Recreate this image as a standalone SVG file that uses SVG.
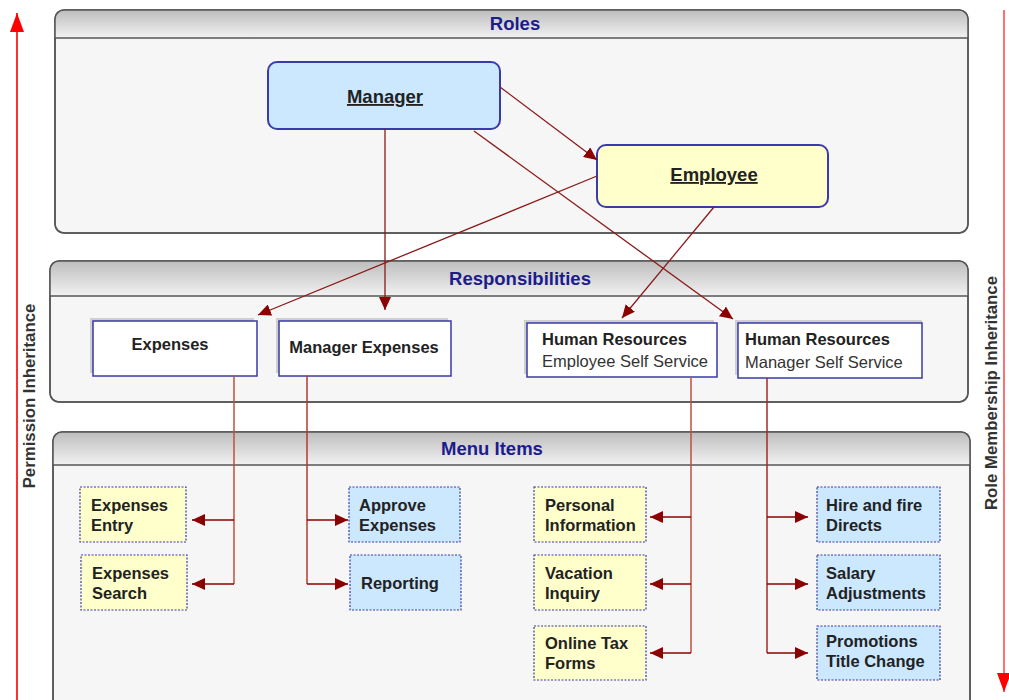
<svg xmlns="http://www.w3.org/2000/svg" width="1009" height="700" viewBox="0 0 1009 700">
<defs>
<linearGradient id="hdr" x1="0" y1="0" x2="0" y2="1">
<stop offset="0" stop-color="#bdbdbd"/>
<stop offset="1" stop-color="#f2f2f2"/>
</linearGradient>
<marker id="ah" markerUnits="userSpaceOnUse" markerWidth="14" markerHeight="12" refX="13" refY="6" orient="auto">
<path d="M0,0 L13,6 L0,12 Z" fill="#8b0000"/>
</marker>
<marker id="redUp" markerUnits="userSpaceOnUse" markerWidth="20" markerHeight="14" refX="19" refY="7" orient="auto">
<path d="M0,0 L19,7 L0,14 Z" fill="#ff0000"/>
</marker>
<clipPath id="clipR"><rect x="55" y="10" width="913" height="223" rx="9"/></clipPath>
<clipPath id="clipS"><rect x="50" y="261" width="918" height="141" rx="9"/></clipPath>
<clipPath id="clipM"><rect x="53" y="432" width="917" height="290" rx="9"/></clipPath>
</defs>
<style>
.panel{fill:#f6f6f6;stroke:#555;stroke-width:1.5}
.hline{stroke:#555;stroke-width:1.5}
.ptitle{font-family:"Liberation Sans",Arial,sans-serif;font-weight:bold;font-size:18.5px;fill:#1c1c8c;text-anchor:middle}
.role{stroke:#3a3aa8;stroke-width:2}
.rtext{font-family:"Liberation Sans",Arial,sans-serif;font-weight:bold;font-size:18.5px;fill:#222;text-anchor:middle;text-decoration:underline}
.resp{fill:#fff;stroke:#3a3aa8;stroke-width:1.5}
.shadow{fill:#cfcfcf}
.bold{font-family:"Liberation Sans",Arial,sans-serif;font-weight:bold;font-size:16.5px;fill:#222}
.norm{font-family:"Liberation Sans",Arial,sans-serif;font-size:16.5px;fill:#333}
.item{stroke:#3a3aa8;stroke-width:1.2;stroke-dasharray:2,1.5}
.yel{fill:#ffffcc}
.blu{fill:#cce8ff}
.conn{fill:none;stroke:#8b1a1a;stroke-width:1.3}
.vline{fill:none;stroke:#c0503a;stroke-width:1.5}
.harr{fill:none;stroke:#8b0000;stroke-width:1.5}
.side{font-family:"Liberation Sans",Arial,sans-serif;font-weight:bold;font-size:16.8px;fill:#333;text-anchor:middle}
</style>

<!-- side arrows -->
<g id="permission-inheritance">
<line x1="17" y1="700" x2="17" y2="13" stroke="#ff3030" stroke-width="2" marker-end="url(#redUp)"/>
<text class="side" transform="translate(35,396) rotate(-90)">Permission Inheritance</text>
</g>
<g id="role-membership-inheritance">
<line x1="1004" y1="10" x2="1004" y2="692" stroke="#ff7070" stroke-width="2" marker-end="url(#redUp)"/>
<text class="side" transform="translate(997,393) rotate(-90)">Role Membership Inheritance</text>
</g>

<!-- panels -->
<g id="roles-panel">
<rect class="panel" x="55" y="10" width="913" height="223" rx="9"/>
<rect x="55" y="10" width="913" height="28" fill="url(#hdr)" clip-path="url(#clipR)"/>
<rect x="55" y="10" width="913" height="223" rx="9" fill="none" stroke="#555" stroke-width="1.5"/>
<line class="hline" x1="55" y1="38" x2="968" y2="38"/>
<text class="ptitle" x="515" y="30">Roles</text>
</g>
<g id="responsibilities-panel">
<rect class="panel" x="50" y="261" width="918" height="141" rx="9"/>
<rect x="50" y="261" width="918" height="35" fill="url(#hdr)" clip-path="url(#clipS)"/>
<rect x="50" y="261" width="918" height="141" rx="9" fill="none" stroke="#555" stroke-width="1.5"/>
<line class="hline" x1="50" y1="296" x2="968" y2="296"/>
<text class="ptitle" x="520" y="285">Responsibilities</text>
</g>
<g id="menu-items-panel">
<rect class="panel" x="53" y="432" width="917" height="290" rx="9"/>
<rect x="53" y="432" width="917" height="33" fill="url(#hdr)" clip-path="url(#clipM)"/>
<rect x="53" y="432" width="917" height="290" rx="9" fill="none" stroke="#555" stroke-width="1.5"/>
<line class="hline" x1="53" y1="465" x2="970" y2="465"/>
<text class="ptitle" x="492" y="455">Menu Items</text>
</g>

<!-- roles -->
<g id="manager">
<rect class="role" x="268" y="62" width="232" height="67" rx="9" fill="#cce8ff"/>
<text class="rtext" x="385" y="103">Manager</text>
</g>
<g id="employee">
<rect class="role" x="597" y="145" width="231" height="62" rx="9" fill="#ffffcc"/>
<text class="rtext" x="714" y="181">Employee</text>
</g>

<!-- responsibilities -->
<g id="expenses">
<rect class="shadow" x="90" y="318" width="164" height="55"/>
<rect class="resp" x="93" y="321" width="164" height="55"/>
<text class="bold" x="170" y="350" text-anchor="middle">Expenses</text>
</g>
<g id="manager-expenses">
<rect class="shadow" x="276" y="318" width="172" height="55"/>
<rect class="resp" x="279" y="321" width="172" height="55"/>
<text class="bold" x="364" y="353" text-anchor="middle">Manager Expenses</text>
</g>
<g id="hr-ess">
<rect class="shadow" x="524" y="320" width="190" height="54"/>
<rect class="resp" x="527" y="323" width="190" height="54"/>
<text class="bold" x="542" y="345">Human Resources</text>
<text class="norm" x="542" y="367">Employee Self Service</text>
</g>
<g id="hr-mss">
<rect class="shadow" x="735" y="320" width="187" height="55"/>
<rect class="resp" x="738" y="323" width="184" height="55"/>
<text class="bold" x="745" y="345">Human Resources</text>
<text class="norm" x="745" y="368">Manager Self Service</text>
</g>

<!-- menu items -->
<g id="expenses-entry">
<rect class="item yel" x="80" y="487" width="106" height="55"/>
<text class="bold" x="91" y="511">Expenses</text>
<text class="bold" x="91" y="531">Entry</text>
</g>
<g id="expenses-search">
<rect class="item yel" x="81" y="555" width="106" height="55"/>
<text class="bold" x="92" y="579">Expenses</text>
<text class="bold" x="92" y="599">Search</text>
</g>
<g id="approve-expenses">
<rect class="item blu" x="349" y="487" width="111" height="55"/>
<text class="bold" x="359" y="511">Approve</text>
<text class="bold" x="359" y="531">Expenses</text>
</g>
<g id="reporting">
<rect class="item blu" x="350" y="555" width="111" height="55"/>
<text class="bold" x="361" y="589">Reporting</text>
</g>
<g id="personal-information">
<rect class="item yel" x="534" y="487" width="112" height="55"/>
<text class="bold" x="545" y="511">Personal</text>
<text class="bold" x="545" y="531">Information</text>
</g>
<g id="vacation-inquiry">
<rect class="item yel" x="534" y="555" width="112" height="55"/>
<text class="bold" x="545" y="579">Vacation</text>
<text class="bold" x="545" y="599">Inquiry</text>
</g>
<g id="online-tax-forms">
<rect class="item yel" x="534" y="626" width="112" height="54"/>
<text class="bold" x="545" y="649">Online Tax</text>
<text class="bold" x="545" y="669">Forms</text>
</g>
<g id="hire-fire-directs">
<rect class="item blu" x="817" y="487" width="123" height="55"/>
<text class="bold" x="826" y="511">Hire and fire</text>
<text class="bold" x="826" y="531">Directs</text>
</g>
<g id="salary-adjustments">
<rect class="item blu" x="817" y="555" width="123" height="55"/>
<text class="bold" x="826" y="579">Salary</text>
<text class="bold" x="826" y="599">Adjustments</text>
</g>
<g id="promotions-title-change">
<rect class="item blu" x="817" y="626" width="123" height="54"/>
<text class="bold" x="826" y="647">Promotions</text>
<text class="bold" x="826" y="667">Title Change</text>
</g>

<!-- connectors -->
<g id="connectors">
<line class="conn" x1="500" y1="87" x2="597" y2="160" marker-end="url(#ah)"/>
<line class="conn" x1="385" y1="129" x2="385" y2="310" marker-end="url(#ah)"/>
<line class="conn" x1="474" y1="131" x2="733" y2="319" marker-end="url(#ah)"/>
<line class="conn" x1="597" y1="176" x2="258" y2="315" marker-end="url(#ah)"/>
<line class="conn" x1="714" y1="207" x2="622" y2="318" marker-end="url(#ah)"/>

<polyline class="vline" points="234,376 234,584"/>
<line class="harr" x1="234" y1="520" x2="192" y2="520" marker-end="url(#ah)"/>
<line class="harr" x1="234" y1="584" x2="192" y2="584" marker-end="url(#ah)"/>

<polyline class="vline" points="307,376 307,584" style="stroke:#b03a30"/>
<line class="harr" x1="307" y1="520" x2="348" y2="520" marker-end="url(#ah)"/>
<line class="harr" x1="307" y1="584" x2="348" y2="584" marker-end="url(#ah)"/>

<polyline class="vline" points="691,377 691,653"/>
<line class="harr" x1="691" y1="517" x2="650" y2="517" marker-end="url(#ah)"/>
<line class="harr" x1="691" y1="584" x2="650" y2="584" marker-end="url(#ah)"/>
<line class="harr" x1="691" y1="653" x2="650" y2="653" marker-end="url(#ah)"/>

<polyline class="vline" points="767,378 767,653" style="stroke:#a02a2a"/>
<line class="harr" x1="767" y1="517" x2="808" y2="517" marker-end="url(#ah)"/>
<line class="harr" x1="767" y1="584" x2="808" y2="584" marker-end="url(#ah)"/>
<line class="harr" x1="767" y1="653" x2="808" y2="653" marker-end="url(#ah)"/>
</g>
</svg>
